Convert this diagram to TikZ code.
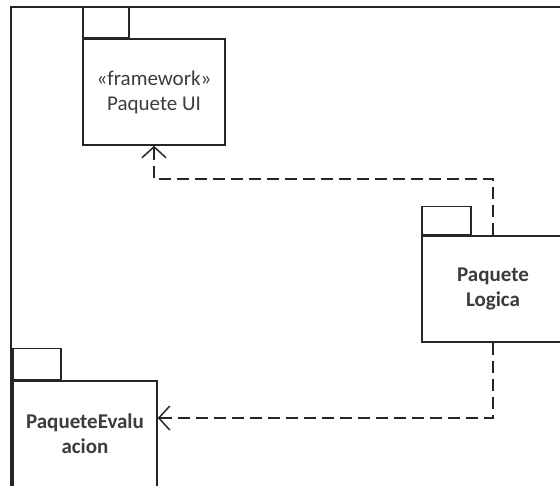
\documentclass[tikz,border=0pt]{standalone}
\usepackage{fontspec}
\setmainfont{Carlito}
\usetikzlibrary{arrows.meta,positioning}
\definecolor{linegray}{HTML}{262626}
\definecolor{textgray}{HTML}{3C3C3C}

\begin{document}
\begin{tikzpicture}[x=1pt,y=-1pt,
		pkg/.style={draw=linegray,line width=1.5pt,fill=white,minimum width=142pt,minimum height=106pt,
			align=center,text=textgray,inner sep=0pt,font=\fontsize{21}{25}\selectfont},
		pkgtab/.style={draw=linegray,line width=1.5pt,anchor=south west,inner sep=0pt},
		dep/.style={draw=linegray,line width=1.5pt,dash pattern=on 12pt off 6pt,
			-{Straight Barb[length=11pt,width=24pt]}}]
		%Picture size
		\useasboundingbox (0,0) rectangle (560,486);
		\clip (0,0) rectangle (560,486);
		%Outer frame
		\draw[linegray,line width=2.5pt] (11,500) -- (11,7) -- (575,7);
		%Packages
		\node[pkg] (ui) at (154,92) {«framework»\\Paquete UI};
		\node[pkgtab,minimum width=46pt,minimum height=30pt] (uitab) at (ui.north west) {};
		\node[pkg,font=\fontsize{21}{25}\selectfont\bfseries] (logica) at (493,289) {Paquete\\Logica};
		\node[pkgtab,minimum width=49pt,minimum height=28pt] (logicatab) at (logica.north west) {};
		\node[pkg,minimum width=144pt,font=\fontsize{21}{25}\selectfont\bfseries] (eval) at (85,434) {PaqueteEvalu\\acion};
		\node[pkgtab,minimum width=48pt,minimum height=31pt] (evaltab) at (eval.north west) {};
		%Dependencies
		\coordinate (uiturn) at (0,179);
		\draw[dep] (logica.north) -- (logica.north |- uiturn) -| (ui.south);
		\draw[dep] (logica.south) |- ([yshift=16pt]eval.east);
\end{tikzpicture}
\end{document}
